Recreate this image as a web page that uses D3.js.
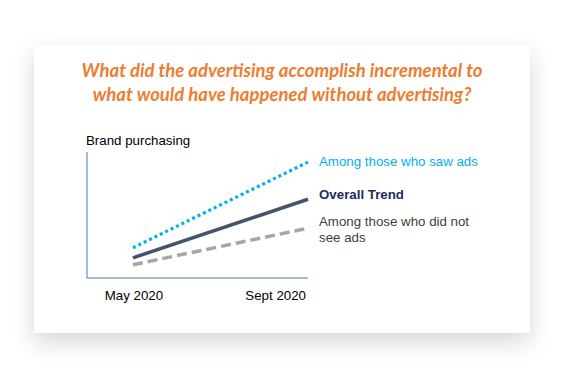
<!DOCTYPE html>
<html>
<head>
<meta charset="utf-8">
<script src="https://cdn.jsdelivr.net/npm/d3@7.9.0/dist/d3.min.js"></script>
<style>
  html, body { margin: 0; padding: 0; background: #fff; }
  #card {
    position: absolute; left: 34px; top: 45px; width: 496px; height: 288px;
    background: #fff;
    box-shadow: 0 9px 22px rgba(0,0,0,0.16);
  }
  svg { position: absolute; left: 0; top: 0; }
</style>
</head>
<body>
<div id="card"></div>
<div id="chart"></div>
<script>
// data
const titleLines = [
  "What did the advertising accomplish incremental to",
  "what would have happened without advertising?"
];
const months = [5, 9];
const monthLabels = ["May 2020", "Sept 2020"];
const sawAds = [24, 92];
const overall = [16, 62.5];
const notSaw = [10.5, 39.5];
const seriesNames = [["Among those who saw ads"], ["Overall Trend"], ["Among those who did not", "see ads"]];

const width = 570, height = 381;
const svg = d3.select("#chart").append("svg")
  .attr("width", width).attr("height", height);

// title
svg.append("g").selectAll("text")
  .data(titleLines).join("text")
  .attr("x", 282)
  .attr("y", (d, i) => 77 + i * 23.5)
  .attr("text-anchor", "middle")
  .attr("font-family", "Lato, 'Open Sans', sans-serif")
  .attr("font-weight", "bold")
  .attr("font-style", "italic")
  .attr("font-size", 18.5)
  .attr("fill", "#ED7D31")
  .text(d => d);

const x = d3.scaleLinear().domain([3.95, 9]).range([87, 308]);
const y = d3.scaleLinear().domain([0, 100]).range([278, 152]);

// axes
svg.append("line")
  .attr("x1", x(3.95)).attr("x2", x(3.95))
  .attr("y1", y(0)).attr("y2", y(100))
  .attr("stroke", "#4472C4").attr("stroke-width", 1);
svg.append("line")
  .attr("x1", x(3.95)).attr("x2", x(9))
  .attr("y1", y(0)).attr("y2", y(0))
  .attr("stroke", "#4472C4").attr("stroke-width", 1);

const font = "'Liberation Sans', Arial, sans-serif";

svg.append("text")
  .attr("x", 86).attr("y", 145)
  .attr("font-family", font)
  .attr("font-size", 13.3)
  .attr("fill", "#000")
  .text("Brand purchasing");

svg.append("g").selectAll("text")
  .data(monthLabels).join("text")
  .attr("x", (d, i) => i === 0 ? x(months[0]) + 1 : x(months[1]) - 2)
  .attr("y", 300)
  .attr("text-anchor", (d, i) => i === 0 ? "middle" : "end")
  .attr("font-family", font)
  .attr("font-size", 13.3)
  .attr("fill", "#000")
  .text(d => d);

// lines
const line = d3.line().x((d, i) => x(months[i])).y(d => y(d));
const series = [
  {values: notSaw, color: "#A6A6A6", dash: "10,5", w: 3.5},
  {values: overall, color: "#44546A", dash: null, w: 3.5},
  {values: sawAds, color: "#00B0F0", dash: "3,3", w: 3.2}
];
svg.append("g").selectAll("path")
  .data(series).join("path")
  .attr("d", d => line(d.values))
  .attr("fill", "none")
  .attr("stroke", d => d.color)
  .attr("stroke-width", d => d.w)
  .attr("stroke-dasharray", d => d.dash);

// labels
const labelStyle = [
  {color: "#00B0F0", bold: false, y: 166},
  {color: "#1F2D5C", bold: true, y: 199},
  {color: "#404040", bold: false, y: 225.5}
];
const lg = svg.append("g");
seriesNames.forEach((lines, k) => {
  lines.forEach((t, j) => {
    lg.append("text")
      .attr("x", 319)
      .attr("y", labelStyle[k].y + j * 16)
      .attr("font-family", font)
      .attr("font-size", 13.3)
      .attr("font-weight", labelStyle[k].bold ? "bold" : "normal")
      .attr("fill", labelStyle[k].color)
      .text(t);
  });
});
</script>
</body>
</html>
